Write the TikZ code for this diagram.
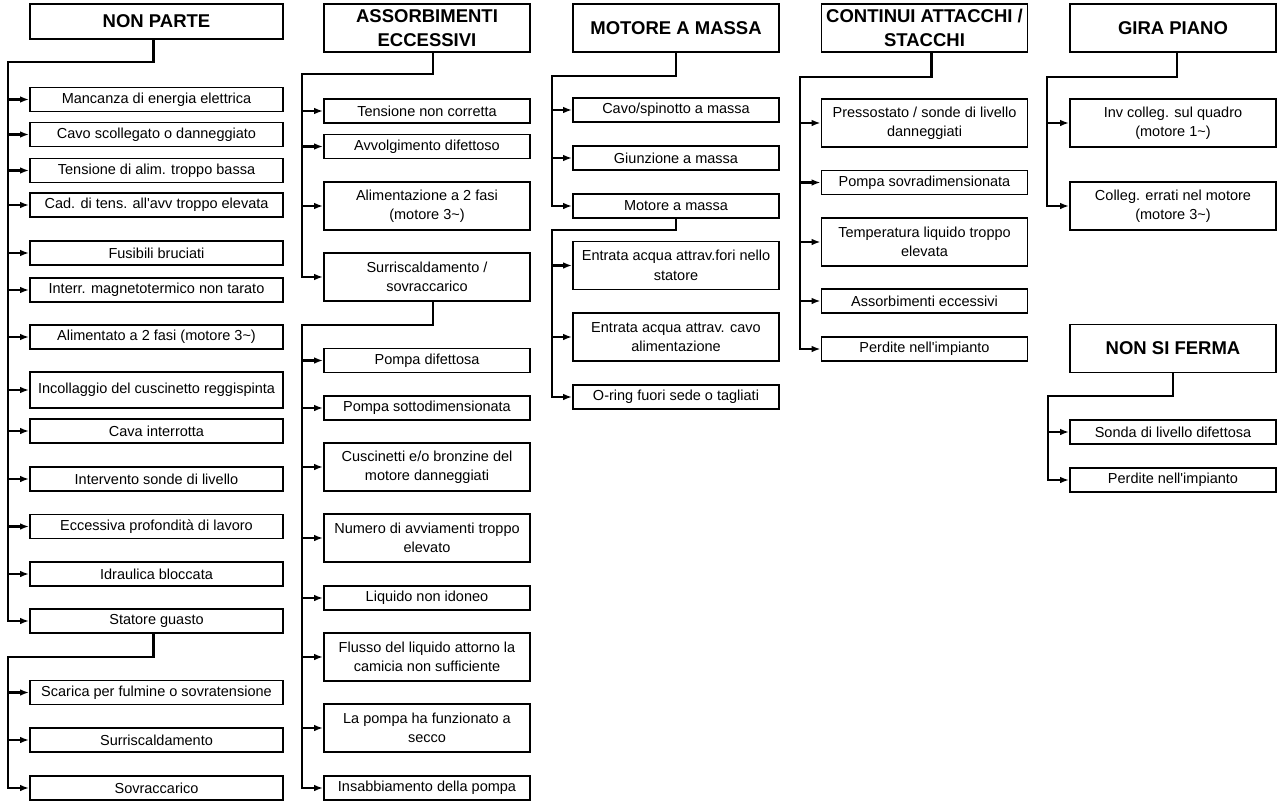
\documentclass[tikz,border=0pt]{standalone}
\usepackage{fontspec}
\setmainfont{Liberation Sans}
\usetikzlibrary{arrows.meta}

\begin{document}
\begin{tikzpicture}[x=1pt,y=-1pt,
  titlebox/.style={draw,line width=1.8pt,inner sep=1pt,align=center,minimum height=48pt,font=\fontsize{18.5}{24.5}\selectfont\bfseries},
  cause/.style={draw,line width=1.6pt,inner sep=1pt,align=center,minimum height=24pt,font=\fontsize{14.5}{19.5}\selectfont},
  wide/.style={minimum width=253pt},
  narrow/.style={minimum width=206pt},
  twoline/.style={minimum height=48pt},
  link/.style={line width=2.4pt},
  arr/.style={link,-{Latex[length=9pt,width=6.5pt]}}]
\useasboundingbox (0,0) rectangle (1277,811);

\node[titlebox,wide,minimum height=35pt] (nonparte) at (156.5,21.5) {NON PARTE};
\node[cause,wide] (np1) at (156.5,99.5) {Mancanza di energia elettrica};
\node[cause,wide] (np2) at (156.5,134.5) {Cavo scollegato o danneggiato};
\node[cause,wide] (np3) at (156.5,170.5) {Tensione di alim. troppo bassa};
\node[cause,wide] (np4) at (156.5,205) {Cad. di tens. all\textquotesingle avv troppo elevata};
\node[cause,wide] (np5) at (156.5,253) {Fusibili bruciati};
\node[cause,wide] (np6) at (156.5,290) {Interr. magnetotermico non tarato};
\node[cause,wide] (np7) at (156.5,337) {Alimentato a 2 fasi (motore 3\textasciitilde)};
\node[cause,wide,minimum height=36pt] (np8) at (156.5,390) {Incollaggio del cuscinetto reggispinta};
\node[cause,wide] (np9) at (156.5,431) {Cava interrotta};
\node[cause,wide] (np10) at (156.5,479) {Intervento sonde di livello};
\node[cause,wide] (np11) at (156.5,526.5) {Eccessiva profondità di lavoro};
\node[cause,wide] (np12) at (156.5,574) {Idraulica bloccata};
\node[cause,wide] (np13) at (156.5,621) {Statore guasto};
\node[cause,wide] (np14) at (156.5,692.5) {Scarica per fulmine o sovratensione};
\node[cause,wide] (np15) at (156.5,740) {Surriscaldamento};
\node[cause,wide] (np16) at (156.5,788) {Sovraccarico};

\coordinate (b1) at (8,62);
\coordinate (b1x) at (8,657);
\draw[arr] ([xshift=-3pt]nonparte.south) |- (b1) |- (np13.west);
\draw[arr] (b1 |- np1.west) -- (np1.west);
\draw[arr] (b1 |- np2.west) -- (np2.west);
\draw[arr] (b1 |- np3.west) -- (np3.west);
\draw[arr] (b1 |- np4.west) -- (np4.west);
\draw[arr] (b1 |- np5.west) -- (np5.west);
\draw[arr] (b1 |- np6.west) -- (np6.west);
\draw[arr] (b1 |- np7.west) -- (np7.west);
\draw[arr] (b1 |- np8.west) -- (np8.west);
\draw[arr] (b1 |- np9.west) -- (np9.west);
\draw[arr] (b1 |- np10.west) -- (np10.west);
\draw[arr] (b1 |- np11.west) -- (np11.west);
\draw[arr] (b1 |- np12.west) -- (np12.west);
\draw[arr] ([xshift=-3pt]np13.south) |- (b1x) |- (np16.west);
\draw[arr] (b1x |- np14.west) -- (np14.west);
\draw[arr] (b1x |- np15.west) -- (np15.west);

\node[titlebox,narrow] (assorb) at (427,28) {ASSORBIMENTI\\ECCESSIVI};
\node[cause,narrow] (ae1) at (427,111) {Tensione non corretta};
\node[cause,narrow] (ae2) at (427,146.5) {Avvolgimento difettoso};
\node[cause,narrow,twoline] (ae3) at (427,206) {Alimentazione a 2 fasi\\(motore 3\textasciitilde)};
\node[cause,narrow,twoline] (ae4) at (427,277) {Surriscaldamento /\\sovraccarico};
\node[cause,narrow] (ae5) at (427,360.5) {Pompa difettosa};
\node[cause,narrow] (ae6) at (427,408) {Pompa sottodimensionata};
\node[cause,narrow,twoline] (ae7) at (427,467) {Cuscinetti e/o bronzine del\\motore danneggiati};
\node[cause,narrow,twoline] (ae8) at (427,538) {Numero di avviamenti troppo\\elevato};
\node[cause,narrow] (ae9) at (427,598) {Liquido non idoneo};
\node[cause,narrow,twoline] (ae10) at (427,657) {Flusso del liquido attorno la\\camicia non sufficiente};
\node[cause,narrow,twoline] (ae11) at (427,728) {La pompa ha funzionato a\\secco};
\node[cause,narrow] (ae12) at (427,788) {Insabbiamento della pompa};

\coordinate (b2) at (302,74);
\coordinate (b2x) at (302,325);
\draw[arr] ([xshift=6pt]assorb.south) |- (b2) |- (ae4.west);
\draw[arr] (b2 |- ae1.west) -- (ae1.west);
\draw[arr] (b2 |- ae2.west) -- (ae2.west);
\draw[arr] (b2 |- ae3.west) -- (ae3.west);
\draw[arr] ([xshift=6pt]ae4.south) |- (b2x) |- (ae12.west);
\draw[arr] (b2x |- ae5.west) -- (ae5.west);
\draw[arr] (b2x |- ae6.west) -- (ae6.west);
\draw[arr] (b2x |- ae7.west) -- (ae7.west);
\draw[arr] (b2x |- ae8.west) -- (ae8.west);
\draw[arr] (b2x |- ae9.west) -- (ae9.west);
\draw[arr] (b2x |- ae10.west) -- (ae10.west);
\draw[arr] (b2x |- ae11.west) -- (ae11.west);

\node[titlebox,narrow] (massa) at (676,28) {MOTORE A MASSA};
\node[cause,narrow] (mm1) at (676,110) {Cavo/spinotto a massa};
\node[cause,narrow] (mm2) at (676,158) {Giunzione a massa};
\node[cause,narrow] (mm3) at (676,206) {Motore a massa};
\node[cause,narrow,twoline] (mm4) at (676,265.5) {Entrata acqua attrav.fori nello\\statore};
\node[cause,narrow,twoline] (mm5) at (676,337) {Entrata acqua attrav. cavo\\alimentazione};
\node[cause,narrow] (mm6) at (676,397) {O-ring fuori sede o tagliati};

\coordinate (b3) at (552,76);
\coordinate (b3x) at (552,230);
\draw[arr] (massa.south) |- (b3) |- (mm3.west);
\draw[arr] (b3 |- mm1.west) -- (mm1.west);
\draw[arr] (b3 |- mm2.west) -- (mm2.west);
\draw[arr] (mm3.south) |- (b3x) |- (mm6.west);
\draw[arr] (b3x |- mm4.west) -- (mm4.west);
\draw[arr] (b3x |- mm5.west) -- (mm5.west);

\node[titlebox,narrow] (attacchi) at (924.5,28) {CONTINUI ATTACCHI /\\STACCHI};
\node[cause,narrow,twoline] (ca1) at (924.5,123) {Pressostato / sonde di livello\\danneggiati};
\node[cause,narrow] (ca2) at (924.5,182.5) {Pompa sovradimensionata};
\node[cause,narrow,twoline] (ca3) at (924.5,242) {Temperatura liquido troppo\\elevata};
\node[cause,narrow] (ca4) at (924.5,301) {Assorbimenti eccessivi};
\node[cause,narrow] (ca5) at (924.5,349) {Perdite nell\textquotesingle impianto};

\coordinate (b4) at (800,77);
\draw[arr] ([xshift=7pt]attacchi.south) |- (b4) |- (ca5.west);
\draw[arr] (b4 |- ca1.west) -- (ca1.west);
\draw[arr] (b4 |- ca2.west) -- (ca2.west);
\draw[arr] (b4 |- ca3.west) -- (ca3.west);
\draw[arr] (b4 |- ca4.west) -- (ca4.west);

\node[titlebox,narrow] (girapiano) at (1173,28) {GIRA PIANO};
\node[cause,narrow,twoline] (gp1) at (1173,123) {Inv colleg. sul quadro\\(motore 1\textasciitilde)};
\node[cause,narrow,twoline] (gp2) at (1173,206) {Colleg. errati nel motore\\(motore 3\textasciitilde)};

\coordinate (b5) at (1047,77);
\draw[arr] ([xshift=4pt]girapiano.south) |- (b5) |- (gp2.west);
\draw[arr] (b5 |- gp1.west) -- (gp1.west);

\node[titlebox,narrow] (nonferma) at (1173,348.5) {NON SI FERMA};
\node[cause,narrow] (nf1) at (1173,432) {Sonda di livello difettosa};
\node[cause,narrow] (nf2) at (1173,480) {Perdite nell\textquotesingle impianto};

\coordinate (b6) at (1048,396);
\draw[arr] (nonferma.south) |- (b6) |- (nf2.west);
\draw[arr] (b6 |- nf1.west) -- (nf1.west);
\end{tikzpicture}
\end{document}
